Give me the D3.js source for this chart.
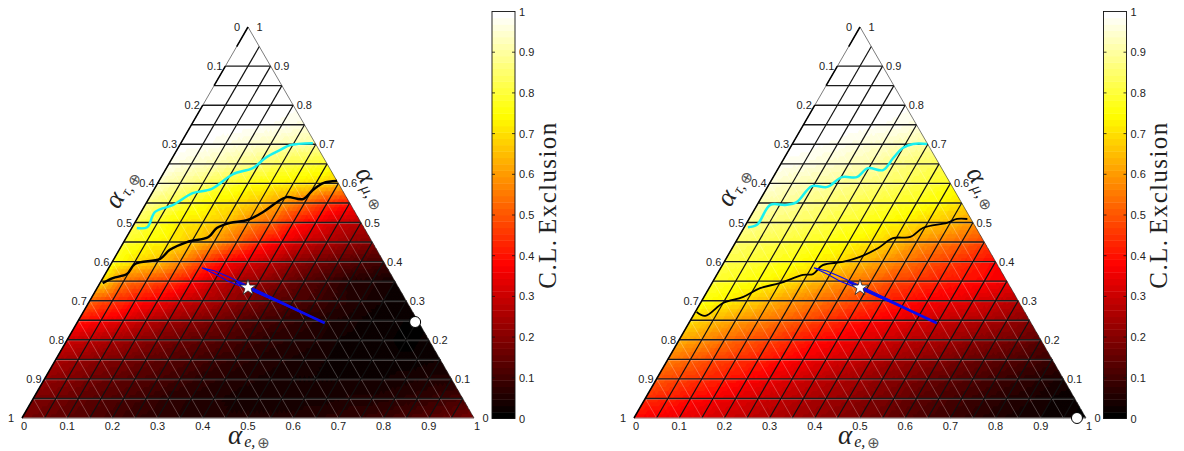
<!DOCTYPE html>
<html>
<head>
<meta charset="utf-8">
<script src="https://cdn.jsdelivr.net/npm/d3@7"></script>
<style>
  html, body { margin: 0; background: #fff; }
  svg { display: block; }
  text { font-family: "Liberation Sans", sans-serif; font-size: 11px; fill: #222; }
  .math { font-family: "Liberation Serif", serif; fill: #222; }
</style>
</head>
<body>
<svg id="chart" width="1184" height="451"></svg>
<script>
// Exclusion level at each grid node, row by row from mu = 0 upward, e = 0 rightward.
const leftExclusion = [
  [.18,.16,.14,.12,.10,.08,.07,.06,.05,.05,.05,.05,.05,.06,.07,.08,.09,.11,.13,.15,.18],
  [.19,.17,.15,.13,.11,.09,.07,.06,.05,.04,.04,.04,.04,.04,.05,.05,.06,.07,.09,.11],
  [.22,.20,.17,.15,.13,.11,.09,.07,.06,.05,.04,.03,.03,.03,.03,.03,.04,.05,.05],
  [.25,.23,.20,.18,.15,.13,.11,.09,.07,.06,.05,.04,.03,.02,.02,.02,.02,.03],
  [.31,.28,.25,.22,.19,.16,.14,.12,.09,.07,.06,.05,.03,.02,.02,.01,.02],
  [.41,.37,.33,.28,.24,.21,.18,.14,.11,.09,.07,.05,.04,.02,.02,.01],
  [.52,.46,.40,.36,.31,.27,.23,.19,.15,.12,.10,.07,.05,.03,.03],
  [.70,.55,.50,.45,.38,.30,.25,.22,.18,.13,.10,.06,.05,.03],
  [.77,.70,.66,.58,.47,.38,.32,.28,.22,.18,.15,.12,.10],
  [.80,.75,.72,.67,.60,.52,.43,.36,.30,.26,.22,.20],
  [.83,.78,.72,.70,.66,.58,.52,.42,.36,.30,.27],
  [.88,.83,.78,.73,.70,.66,.60,.53,.45,.40],
  [.94,.89,.85,.80,.76,.74,.72,.70,.66],
  [.98,.95,.92,.89,.86,.82,.80,.78],
  [1,.99,.97,.95,.93,.91,.90],
  [1,1,1,.99,.98,.96],
  [1,1,1,1,.99],
  [1,1,1,1],
  [1,1,1],
  [1,1],
  [1]
];
const rightExclusion = [
  [.38,.36,.35,.33,.30,.28,.26,.24,.22,.20,.18,.16,.13,.11,.09,.07,.05,.04,.03,.02,.01],
  [.44,.42,.39,.37,.34,.31,.29,.26,.24,.22,.19,.17,.14,.12,.10,.08,.06,.05,.03,.02],
  [.50,.47,.44,.41,.38,.35,.32,.29,.26,.24,.21,.19,.16,.14,.12,.10,.08,.06,.04],
  [.56,.52,.48,.45,.42,.39,.36,.33,.30,.27,.24,.22,.20,.17,.15,.13,.11,.09],
  [.63,.59,.54,.50,.47,.43,.39,.37,.34,.31,.28,.26,.24,.21,.19,.17,.14],
  [.70,.65,.61,.57,.53,.49,.45,.41,.38,.35,.32,.30,.28,.26,.23,.20],
  [.76,.73,.69,.64,.59,.55,.51,.47,.43,.40,.37,.35,.33,.30,.27],
  [.79,.77,.75,.72,.67,.62,.57,.53,.48,.45,.42,.40,.38,.36],
  [.82,.80,.78,.76,.73,.70,.65,.60,.55,.50,.46,.42,.38],
  [.85,.83,.81,.79,.77,.74,.71,.66,.60,.56,.52,.47],
  [.89,.87,.85,.83,.80,.78,.75,.72,.68,.65,.60],
  [.92,.90,.88,.86,.84,.81,.79,.77,.74,.70],
  [.96,.93,.91,.89,.87,.85,.83,.80,.77],
  [.98,.97,.95,.93,.91,.88,.85,.83],
  [1,.99,.98,.96,.94,.92,.90],
  [1,1,1,.99,.98,.96],
  [1,1,1,1,.99],
  [1,1,1,1],
  [1,1,1],
  [1,1],
  [1]
];

// Contours as [e, mu] pairs.
const leftBlackContour = [[.006,.345],[.022,.358],[.048,.368],[.053,.394],[.102,.407],[.112,.430],[.140,.450],[.181,.463],[.188,.486],[.211,.499],[.245,.506],[.270,.527],[.288,.552],[.303,.565],[.342,.560],[.352,.583],[.366,.601],[.394,.606]];
const leftCyanContour = [[.011,.486],[.033,.488],[.031,.527],[.062,.545],[.090,.575],[.127,.586],[.155,.624],[.191,.639],[.206,.665],[.228,.685],[.244,.698],[.292,.703]];
const rightBlackContour = [[.003,.271],[.027,.261],[.050,.294],[.086,.309],[.113,.332],[.150,.345],[.191,.366],[.212,.368],[.222,.391],[.262,.399],[.294,.412],[.323,.435],[.343,.460],[.380,.463],[.396,.486],[.443,.499],[.460,.509],[.483,.509]];
const rightCyanContour = [[.008,.488],[.025,.494],[.029,.545],[.062,.545],[.084,.552],[.097,.593],[.132,.591],[.152,.616],[.185,.616],[.198,.639],[.234,.634],[.241,.665],[.250,.691],[.267,.701],[.298,.701]];
const blueRegion = [[.206,.384],[.239,.376],[.276,.361],[.331,.338],[.421,.299],[.548,.243],[.424,.294],[.335,.330],[.281,.350],[.243,.368],[.206,.384]];
const blueCore = [[.300,.349],[.331,.334],[.421,.297],[.548,.243]];
const bestFit = [1 / 3, 1 / 3];
const leftSource = [.747, .2455];
const rightSource = [.98, 0];

const ternaryTicks = [0, .1, .2, .3, .4, .5, .6, .7, .8, .9, 1];
const colorbarTicks = [0, .1, .2, .3, .4, .5, .6, .7, .8, .9, 1];
const gridStops = d3.range(1, 20).map(k => k / 20);

const svg = d3.select('#chart');

// MATLAB "hot" with its 64 discrete levels.
const hot = d3.scaleLinear().domain([0, .375, .75, 1]).range(['#000000', '#ff0000', '#ffff00', '#ffffff']).clamp(true);
const levels = d3.range(64).map(i => hot(i / 63));
const levelOf = d3.scaleQuantize().domain([0, 1]).range(d3.range(64));

// Piecewise-linear reading of a node table, at (e, mu).
function fieldAt(rows, e, mu) {
  const u = e * 20, v = mu * 20;
  const i = Math.min(Math.floor(v), 19), j = Math.min(Math.floor(u), 19);
  const fu = u - j, fv = v - i;
  if (fu + fv <= 1) {
    const a = rows[i][j];
    return a + (rows[i][j + 1] - a) * fu + (rows[i + 1][j] - a) * fv;
  }
  const d = rows[i + 1][j + 1];
  return d + (rows[i + 1][j] - d) * (1 - fu) + (rows[i][j + 1] - d) * (1 - fv);
}

function mathLabel(g, cx, cy, angle, sub) {
  const t = g.append('text').attr('class', 'math')
    .attr('transform', `translate(${cx},${cy}) rotate(${angle})`)
    .attr('dominant-baseline', 'middle');
  t.append('tspan').attr('font-style', 'italic').style('font-size', '27px').text('α');
  t.append('tspan').attr('font-style', 'italic').style('font-size', '16px').attr('dy', 5).attr('dx', 2).text(sub + ',');
  t.append('tspan').style('font-size', '15px').attr('dx', 2).style('font-family', '"DejaVu Sans"').style('fill', '#555').text('⊕');
}

function drawPanel(x0, rows, blackContour, cyanContour, source, labels) {
  const g = svg.append('g');
  const xs = d3.scaleLinear().domain([0, 1]).range([x0, x0 + 452]);
  const ys = d3.scaleLinear().domain([0, 1]).range([418, 27]);
  const px = (e, mu) => [xs(e + mu / 2), ys(mu)];
  const segment = (a, b) => `M${px(...a)}L${px(...b)}`;

  // Heat map: small triangles gathered into one path per colour level.
  const n = 100, paths = levels.map(() => d3.path());
  const addTri = (a, b, c) => {
    const value = fieldAt(rows, (a[0] + b[0] + c[0]) / 3, (a[1] + b[1] + c[1]) / 3);
    const p = paths[levelOf(value)];
    p.moveTo(...px(...a)); p.lineTo(...px(...b)); p.lineTo(...px(...c)); p.closePath();
  };
  for (let i = 0; i < n; i++) {
    for (let j = 0; j < n - i; j++) {
      addTri([j / n, i / n], [(j + 1) / n, i / n], [j / n, (i + 1) / n]);
      if (j < n - i - 1) addTri([(j + 1) / n, i / n], [(j + 1) / n, (i + 1) / n], [j / n, (i + 1) / n]);
    }
  }
  g.append('g').selectAll('path').data(paths).join('path')
    .attr('d', d => d.toString())
    .attr('fill', (d, i) => levels[i])
    .attr('stroke', (d, i) => levels[i])
    .attr('stroke-width', .3)
    .attr('shape-rendering', 'crispEdges');

  // Grid: tau lines thin and white, mu lines two-tone, e lines black.
  g.append('g').selectAll('path').data(gridStops).join('path')
    .attr('d', k => segment([1 - k, 0], [0, 1 - k]))
    .attr('stroke', '#fff').attr('stroke-opacity', .42).attr('stroke-width', .6).attr('fill', 'none');
  const muStops = gridStops.filter(k => k < .92);
  g.append('g').selectAll('path').data(muStops).join('path')
    .attr('d', k => segment([0, k], [1 - k, k]))
    .attr('transform', 'translate(0,.9)')
    .attr('stroke', '#fff').attr('stroke-opacity', .35).attr('stroke-width', 1).attr('fill', 'none');
  g.append('g').selectAll('path').data(muStops).join('path')
    .attr('d', k => segment([0, k], [1 - k, k]))
    .attr('stroke', '#1c1c1c').attr('stroke-width', 1.4).attr('fill', 'none');
  g.append('g').selectAll('path').data(gridStops).join('path')
    .attr('d', k => segment([k, 0], [k, 1 - k]))
    .attr('stroke', '#111').attr('stroke-width', 1.2).attr('fill', 'none');

  // Outline
  g.append('path').attr('d', segment([0, 0], [1, 0])).attr('stroke', '#999').attr('stroke-width', 1).attr('fill', 'none');
  g.append('path').attr('d', segment([1, 0], [0, 1])).attr('stroke', '#444').attr('stroke-width', .7).attr('fill', 'none');
  g.append('path').attr('d', segment([0, 0], [0, 1])).attr('stroke', '#444').attr('stroke-width', .7).attr('fill', 'none');
  g.append('g').selectAll('path').data([[0, .8], [.85, .9], [.95, 1]]).join('path')
    .attr('d', d => segment([0, d[0]], [0, d[1]]))
    .attr('stroke', '#000').attr('stroke-width', 1.5).attr('fill', 'none');

  // Contours and best-fit region
  const smooth = d3.line().x(d => px(...d)[0]).y(d => px(...d)[1]).curve(d3.curveCatmullRom);
  g.append('path').attr('d', smooth(blackContour)).attr('fill', 'none').attr('stroke', '#000').attr('stroke-width', labels.contourWidth);
  g.append('path').attr('d', smooth(cyanContour)).attr('fill', 'none').attr('stroke', '#19f0f0').attr('stroke-width', 2.5);
  const straight = d3.line().x(d => px(...d)[0]).y(d => px(...d)[1]);
  g.append('path').attr('d', straight(blueRegion)).attr('fill', 'none').attr('stroke', '#0a0aef').attr('stroke-width', 1.1);
  g.append('path').attr('d', straight(blueCore)).attr('fill', 'none').attr('stroke', '#0a0aef').attr('stroke-width', 2.6);
  g.append('path').attr('d', d3.symbol(d3.symbolStar, 80)())
    .attr('transform', `translate(${px(...bestFit)})`)
    .attr('fill', '#fff').attr('stroke', '#222').attr('stroke-width', .8);
  g.append('circle').attr('cx', px(...source)[0]).attr('cy', px(...source)[1]).attr('r', 5.5)
    .attr('fill', '#fff').attr('stroke', '#000').attr('stroke-width', 1);

  // Tick labels on the three sides; the two corner labels sit further out.
  const cornerGap = d => (d === 0 || d === 1) ? 5 : 0;
  g.append('g').selectAll('text').data(ternaryTicks).join('text')
    .attr('x', d => xs(d) + (d === 0 ? 2 : d === 1 ? 3 : 0)).attr('y', 430)
    .attr('text-anchor', 'middle').text(d => d);
  g.append('g').selectAll('text').data(ternaryTicks).join('text')
    .attr('x', d => px(0, 1 - d)[0] - 3 - cornerGap(d)).attr('y', d => px(0, 1 - d)[1] + 4)
    .attr('text-anchor', 'end').text(d => d);
  g.append('g').selectAll('text').data(ternaryTicks).join('text')
    .attr('x', d => px(1 - d, d)[0] + 3.5 + cornerGap(d)).attr('y', d => px(1 - d, d)[1] + 4)
    .text(d => d);

  mathLabel(g, labels.e[0], labels.e[1], 0, 'e');
  mathLabel(g, labels.tau[0], labels.tau[1], -60, 'τ');
  mathLabel(g, labels.mu[0], labels.mu[1], 60, 'μ');

  // Colour bar
  const barX = labels.barX, barW = 23;
  const cs = d3.scaleLinear().domain([0, 1]).range([418.5, 11.5]);
  g.append('g').selectAll('rect').data(levels).join('rect')
    .attr('x', barX)
    .attr('y', (d, i) => cs((i + 1) / 64))
    .attr('width', barW)
    .attr('height', (d, i) => cs(i / 64) - cs((i + 1) / 64) + .4)
    .attr('fill', d => d);
  const axis = g.append('g').attr('transform', `translate(${barX + barW},0)`)
    .call(d3.axisRight(cs).tickValues(colorbarTicks).tickSize(0).tickPadding(4).tickFormat(d => d));
  axis.select('.domain').remove();
  axis.selectAll('text').style('font-size', '11px').style('font-family', '"Liberation Sans"').style('fill', '#222');
  g.append('g').selectAll('path').data(colorbarTicks.slice(1, -1)).join('path')
    .attr('d', d => `M${barX},${cs(d)}h3M${barX + barW - 3},${cs(d)}h3`)
    .attr('stroke', '#111').attr('stroke-width', .8);
  g.append('rect').attr('x', barX).attr('y', cs(1)).attr('width', barW).attr('height', cs(0) - cs(1))
    .attr('fill', 'none').attr('stroke', '#111').attr('stroke-width', .9);
  g.append('text').attr('class', 'math')
    .attr('transform', `translate(${barX + 63.5},205) rotate(-90)`)
    .attr('text-anchor', 'middle')
    .style('font-size', '25px').style('letter-spacing', '1.4px').style('word-spacing', '-3px')
    .text('C.L. Exclusion');
}

drawPanel(22, leftExclusion, leftBlackContour, leftCyanContour, leftSource,
  { e: [228, 438], tau: [113, 207], mu: [360, 170], barX: 492, contourWidth: 2.4 });
drawPanel(634, rightExclusion, rightBlackContour, rightCyanContour, rightSource,
  { e: [838, 438], tau: [725, 205], mu: [971, 170], barX: 1103.5, contourWidth: 1.8 });
</script>
</body>
</html>
